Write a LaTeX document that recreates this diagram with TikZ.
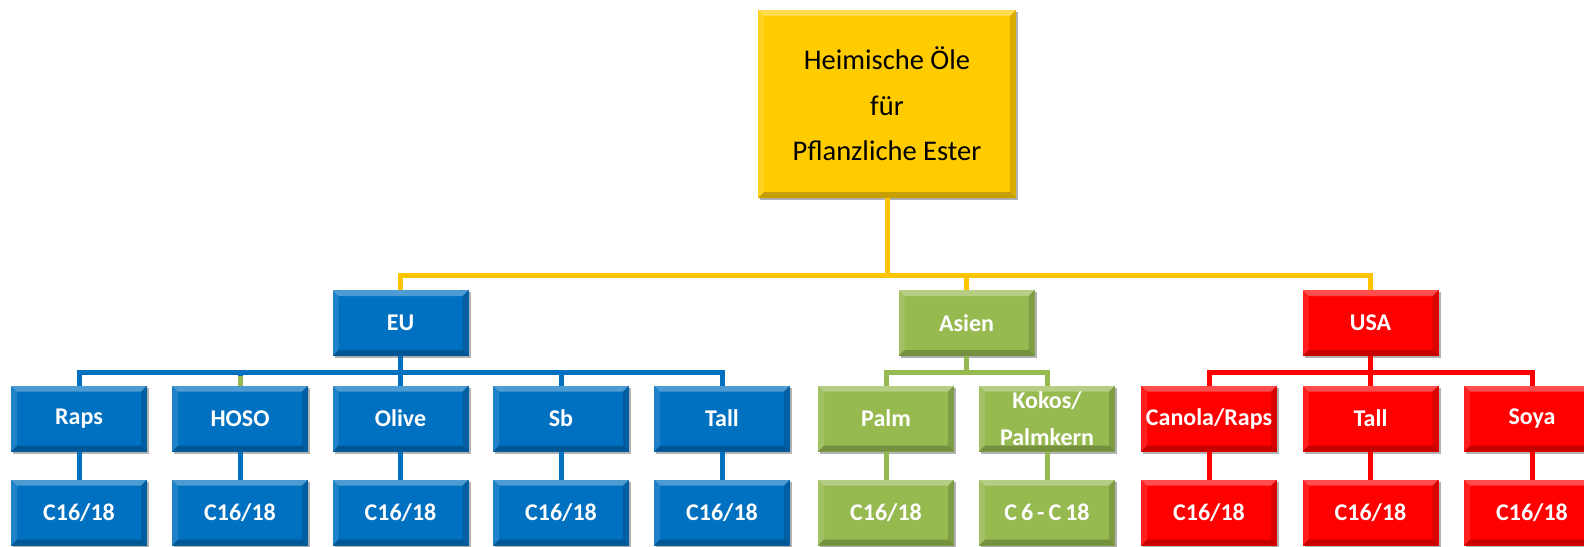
\documentclass[tikz,border=0pt]{standalone}
\usepackage{fontspec}
\setmainfont{Carlito}
\usetikzlibrary{calc,shadows}
\definecolor{cY}{RGB}{255,204,0}
\definecolor{cYl}{RGB}{255,196,0}
\definecolor{cB}{RGB}{0,112,192}
\definecolor{cG}{RGB}{150,185,80}
\definecolor{cR}{RGB}{255,0,0}
\tikzset{
 bevel/.style={path picture={
   \path (path picture bounding box.north west) coordinate (pnw)
         (path picture bounding box.north east) coordinate (pne)
         (path picture bounding box.south west) coordinate (psw)
         (path picture bounding box.south east) coordinate (pse);
   \fill[white,opacity=.3] (pnw) -- (pne) -- ($(pne)+(-6pt,-6pt)$) -- ($(pnw)+(6pt,-6pt)$) -- cycle;
   \fill[white,opacity=.12] (pnw) -- ($(pnw)+(6pt,-6pt)$) -- ($(psw)+(6pt,6pt)$) -- (psw) -- cycle;
   \fill[black,opacity=.22] (psw) -- (pse) -- ($(pse)+(-6pt,6pt)$) -- ($(psw)+(6pt,6pt)$) -- cycle;
   \fill[black,opacity=.15] (pne) -- (pse) -- ($(pse)+(-6pt,6pt)$) -- ($(pne)+(-6pt,-6pt)$) -- cycle;
 }},
 box/.style={fill=#1, minimum width=136pt, minimum height=66pt, inner sep=0pt, outer sep=0pt,
   text=white, font=\bfseries\fontsize{24}{37}\selectfont, align=center, bevel,
   drop shadow={shadow xshift=2pt,shadow yshift=-2pt,opacity=.3,fill=black}},
 topbox/.style={fill=cY, minimum width=258pt, minimum height=188pt, inner sep=0pt, outer sep=0pt,
   text=black, font=\fontsize{28.5}{45.5}\selectfont, align=center, bevel,
   drop shadow={shadow xshift=2pt,shadow yshift=-2pt,opacity=.3,fill=black}},
 yl/.style={draw=cYl, line width=5pt},
 bl/.style={draw=cB, line width=5pt},
 gl/.style={draw=cG, line width=5pt},
 rl/.style={draw=cR, line width=5pt},
}
\begin{document}
\begin{tikzpicture}[x=1pt,y=-1pt]
\useasboundingbox (0,0) rectangle (1584,546);
\clip (0,0) rectangle (1584,546);
% top
\node[topbox] (top) at (887,104) {Heimische Öle\\für\\Pflanzliche Ester};
% level 2
\node[box=cB] (eu) at (400.5,323) {EU};
\node[box=cG] (asien) at (966.5,323) {Asien};
\node[box=cR] (usa) at (1370.5,323) {USA};
% level 3
\node[box=cB] (raps) at (79,418.5) {Raps};
\node[box=cB] (hoso) at (240,418.5) {HOSO};
\node[box=cB] (olive) at (400.5,418.5) {Olive};
\node[box=cB] (sb) at (561,418.5) {Sb};
\node[box=cB] (talleu) at (722,418.5) {Tall};
\node[box=cG] (palm) at (886,418.5) {Palm};
\node[box=cG] (kokos) at (1047,418.5) {Kokos/\\Palmkern};
\node[box=cR] (canola) at (1209,418.5) {Canola/Raps};
\node[box=cR] (tallusa) at (1370.5,418.5) {Tall};
\node[box=cR] (soya) at (1532,418.5) {Soya};
% level 4
\node[box=cB] (c1) at (79,512.5) {C16/18};
\node[box=cB] (c2) at (240,512.5) {C16/18};
\node[box=cB] (c3) at (400.5,512.5) {C16/18};
\node[box=cB] (c4) at (561,512.5) {C16/18};
\node[box=cB] (c5) at (722,512.5) {C16/18};
\node[box=cG] (c6) at (886,512.5) {C16/18};
\node[box=cG] (c7) at (1047,512.5) {C\,6\,-\,C\,18};
\node[box=cR] (c8) at (1209,512.5) {C16/18};
\node[box=cR] (c9) at (1370.5,512.5) {C16/18};
\node[box=cR] (c10) at (1532,512.5) {C16/18};
% connectors top
\foreach \n in {eu,asien,usa} \draw[yl] (top.south) -- ++(0,77) -| (\n.north);
% EU
\foreach \n in {raps,hoso,olive,sb,talleu} \draw[bl] (eu.south) -- ++(0,16) -| (\n.north);
\draw[gl] (hoso.north) -- ++(0,-10);
% Asien
\foreach \n in {palm,kokos} \draw[gl] (asien.south) -- ++(0,16) -| (\n.north);
% USA
\foreach \n in {canola,tallusa,soya} \draw[rl] (usa.south) -- ++(0,16) -| (\n.north);
% level 3 to 4
\draw[bl] (raps) -- (c1);
\draw[bl] (hoso) -- (c2);
\draw[bl] (olive) -- (c3);
\draw[bl] (sb) -- (c4);
\draw[bl] (talleu) -- (c5);
\draw[gl] (palm) -- (c6);
\draw[gl] (kokos) -- (c7);
\draw[rl] (canola) -- (c8);
\draw[rl] (tallusa) -- (c9);
\draw[rl] (soya) -- (c10);
\end{tikzpicture}
\end{document}
